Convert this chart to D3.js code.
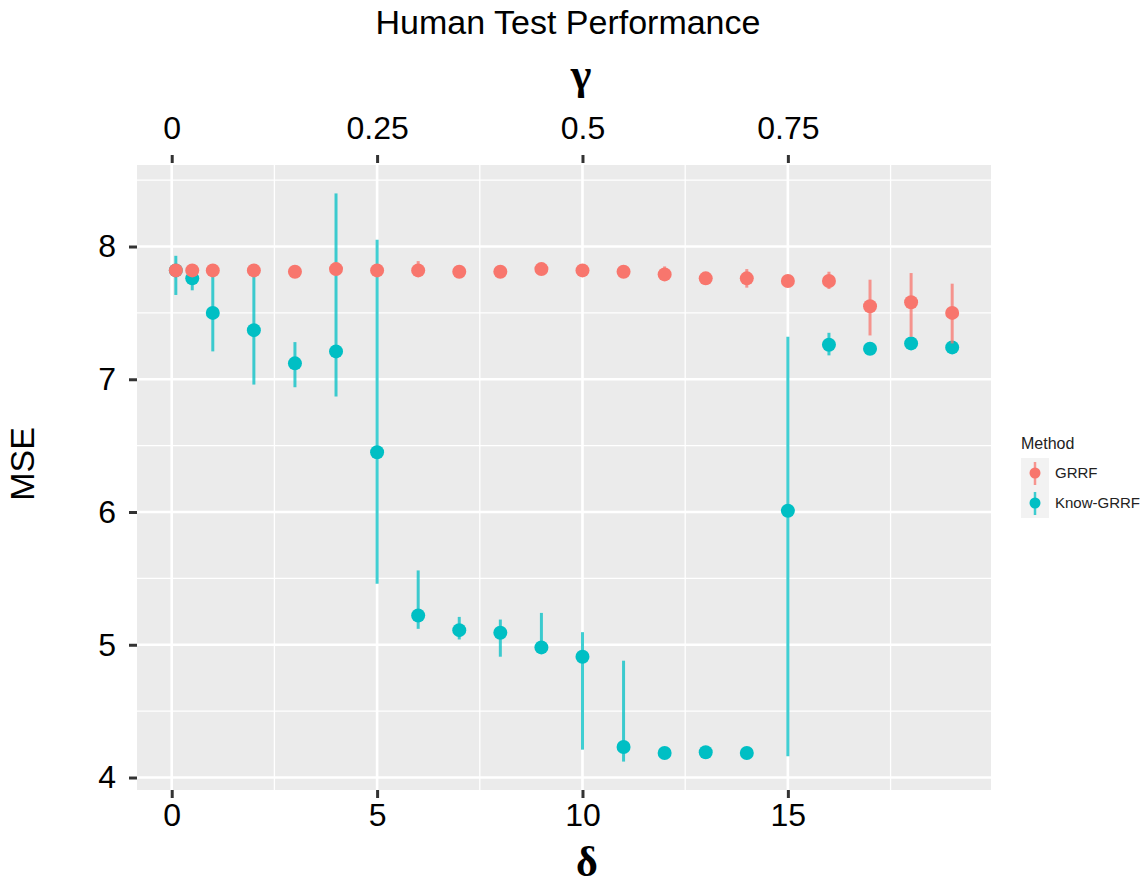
<!DOCTYPE html>
<html>
<head>
<meta charset="utf-8">
<script src="https://cdn.jsdelivr.net/npm/d3@7"></script>
<style>
  body { margin: 0; background: #fff; }
  text { font-family: "Liberation Sans", Arial, sans-serif; }
</style>
</head>
<body>
<div id="vis"></div>
<script>
// delta values shared by both methods
var deltas = [0.1, 0.5, 1, 2, 3, 4, 5, 6, 7, 8, 9, 10, 11, 12, 13, 14, 15, 16, 17, 18, 19];

// GRRF
var grrfMean = [7.82, 7.82, 7.82, 7.82, 7.81, 7.83, 7.82, 7.82, 7.81, 7.81, 7.83, 7.82, 7.81, 7.79, 7.76, 7.76, 7.74, 7.74, 7.55, 7.58, 7.50];
var grrfLo   = [7.80, 7.80, 7.80, 7.80, 7.79, 7.80, 7.80, 7.79, 7.79, 7.79, 7.81, 7.80, 7.79, 7.74, 7.73, 7.69, 7.71, 7.68, 7.33, 7.32, 7.27];
var grrfHi   = [7.84, 7.84, 7.84, 7.84, 7.83, 7.86, 7.84, 7.89, 7.83, 7.83, 7.85, 7.84, 7.83, 7.85, 7.79, 7.83, 7.77, 7.81, 7.75, 7.80, 7.72];

// Know-GRRF
var knowMean = [7.82, 7.76, 7.50, 7.37, 7.12, 7.21, 6.45, 5.22, 5.11, 5.09, 4.98, 4.91, 4.23, 4.185, 4.19, 4.185, 6.01, 7.26, 7.23, 7.27, 7.24];
var knowLo   = [7.635, 7.67, 7.21, 6.96, 6.94, 6.87, 5.46, 5.12, 5.04, 4.91, 4.95, 4.21, 4.12, 4.15, 4.17, 4.16, 4.16, 7.18, 7.20, 7.24, 7.22];
var knowHi   = [7.93, 7.84, 7.80, 7.80, 7.28, 8.40, 8.05, 5.56, 5.21, 5.19, 5.24, 5.095, 4.88, 4.21, 4.21, 4.21, 7.32, 7.35, 7.26, 7.30, 7.28];

var methods = ['GRRF', 'Know-GRRF'];
var methodColors = ['#F8766D', '#00BFC4'];

var xTicks = [0, 5, 10, 15];
var xMinor = [2.5, 7.5, 12.5, 17.5];
var yTicks = [4, 5, 6, 7, 8];
var yMinor = [4.5, 5.5, 6.5, 7.5, 8.5];
var gammaTicks = [0, 0.25, 0.5, 0.75];
var gammaLabels = ['0', '0.25', '0.5', '0.75'];

var width = 1146, height = 888;
var panel = {left: 137, right: 991, top: 165, bottom: 790};

function buildSeries(name, mean, lo, hi) {
  return deltas.map(function(d, i) {
    return {method: name, x: d, y: mean[i], lo: lo[i], hi: hi[i]};
  });
}

var grrf = buildSeries('GRRF', grrfMean, grrfLo, grrfHi);
var know = buildSeries('Know-GRRF', knowMean, knowLo, knowHi);
var all = grrf.concat(know);

// ggplot style 5% expansion
function expand(ext) {
  var pad = (ext[1] - ext[0]) * 0.05;
  return [ext[0] - pad, ext[1] + pad];
}

var x = d3.scaleLinear()
  .domain(expand(d3.extent(deltas)))
  .range([panel.left, panel.right]);

var yExt = [d3.min(all, function(d) { return d.lo; }), d3.max(all, function(d) { return d.hi; })];
var y = d3.scaleLinear()
  .domain(expand(yExt))
  .range([panel.bottom, panel.top]);

// gamma = delta / 20
var gamma = d3.scaleLinear()
  .domain(x.domain().map(function(d) { return d / 20; }))
  .range(x.range());

var color = d3.scaleOrdinal().domain(methods).range(methodColors);

var svg = d3.select('#vis').append('svg')
  .attr('width', width)
  .attr('height', height);

svg.append('rect')
  .attr('width', width).attr('height', height)
  .attr('fill', '#fff');

// panel background
svg.append('rect')
  .attr('x', panel.left).attr('y', panel.top)
  .attr('width', panel.right - panel.left)
  .attr('height', panel.bottom - panel.top)
  .attr('fill', '#EBEBEB');

var grid = svg.append('g');

grid.selectAll('.ymin').data(yMinor).enter().append('line')
  .attr('x1', panel.left).attr('x2', panel.right)
  .attr('y1', function(d) { return y(d); }).attr('y2', function(d) { return y(d); })
  .attr('stroke', '#fff').attr('stroke-width', 1.3);

grid.selectAll('.xmin').data(xMinor).enter().append('line')
  .attr('y1', panel.top).attr('y2', panel.bottom)
  .attr('x1', function(d) { return x(d); }).attr('x2', function(d) { return x(d); })
  .attr('stroke', '#fff').attr('stroke-width', 1.3);

grid.selectAll('.ymaj').data(yTicks).enter().append('line')
  .attr('x1', panel.left).attr('x2', panel.right)
  .attr('y1', function(d) { return y(d); }).attr('y2', function(d) { return y(d); })
  .attr('stroke', '#fff').attr('stroke-width', 2.6);

grid.selectAll('.xmaj').data(xTicks).enter().append('line')
  .attr('y1', panel.top).attr('y2', panel.bottom)
  .attr('x1', function(d) { return x(d); }).attr('x2', function(d) { return x(d); })
  .attr('stroke', '#fff').attr('stroke-width', 2.6);

// axes
function styleAxis(g) {
  g.select('.domain').remove();
  g.selectAll('.tick line').attr('stroke', '#333').attr('stroke-width', 3);
  g.selectAll('.tick text')
    .attr('fill', '#000')
    .style('font-family', '"Liberation Sans", Arial, sans-serif')
    .style('font-size', '32px');
}

svg.append('g')
  .attr('transform', 'translate(0,' + panel.bottom + ')')
  .call(d3.axisBottom(x).tickValues(xTicks).tickSize(8).tickPadding(5).tickFormat(d3.format('d')))
  .call(styleAxis);

svg.append('g')
  .attr('transform', 'translate(0,' + (panel.top - 2) + ')')
  .call(d3.axisTop(gamma).tickValues(gammaTicks).tickSize(8).tickPadding(16)
    .tickFormat(function(d, i) { return gammaLabels[i]; }))
  .call(styleAxis);

svg.append('g')
  .attr('transform', 'translate(' + panel.left + ',0)')
  .call(d3.axisLeft(y).tickValues(yTicks).tickSize(8).tickPadding(13).tickFormat(d3.format('d')))
  .call(styleAxis);

// titles
svg.append('text')
  .attr('x', 568).attr('y', 34)
  .attr('text-anchor', 'middle')
  .style('font-size', '34px')
  .text('Human Test Performance');

svg.append('text')
  .attr('x', 581).attr('y', 89)
  .attr('text-anchor', 'middle')
  .style('font-family', '"Liberation Serif", "DejaVu Serif", serif')
  .style('font-weight', 'bold')
  .style('font-size', '44px')
  .text('γ');

svg.append('text')
  .attr('x', 587).attr('y', 876)
  .attr('text-anchor', 'middle')
  .style('font-family', '"Liberation Serif", "DejaVu Serif", serif')
  .style('font-weight', 'bold')
  .style('font-size', '42px')
  .text('δ');

svg.append('text')
  .attr('transform', 'translate(34,464) rotate(-90)')
  .attr('text-anchor', 'middle')
  .style('font-size', '34px')
  .text('MSE');

// marks: teal underneath, red on top
function drawSeries(data) {
  var g = svg.append('g');
  g.selectAll('line').data(data).enter().append('line')
    .attr('x1', function(d) { return x(d.x); })
    .attr('x2', function(d) { return x(d.x); })
    .attr('y1', function(d) { return y(d.lo); })
    .attr('y2', function(d) { return y(d.hi); })
    .attr('stroke', function(d) { return color(d.method); })
    .attr('stroke-opacity', 0.75)
    .attr('stroke-width', 3);
  g.selectAll('circle').data(data).enter().append('circle')
    .attr('cx', function(d) { return x(d.x); })
    .attr('cy', function(d) { return y(d.y); })
    .attr('r', 7)
    .attr('fill', function(d) { return color(d.method); });
}

drawSeries(know);
drawSeries(grrf);

// legend
var legend = svg.append('g').attr('transform', 'translate(1021,0)');

legend.append('text')
  .attr('x', 0).attr('y', 449)
  .attr('fill', '#222')
  .style('font-size', '16px')
  .text('Method');

var keys = legend.selectAll('.key').data(methods).enter().append('g')
  .attr('transform', function(d, i) { return 'translate(0,' + (458 + i * 30) + ')'; });

keys.append('rect')
  .attr('width', 28).attr('height', 30)
  .attr('fill', '#F2F2F2');

keys.append('line')
  .attr('x1', 14).attr('x2', 14)
  .attr('y1', 4).attr('y2', 27)
  .attr('stroke', function(d) { return color(d); })
  .attr('stroke-opacity', 0.75)
  .attr('stroke-width', 2.5);

keys.append('circle')
  .attr('cx', 14).attr('cy', 15).attr('r', 5.5)
  .attr('fill', function(d) { return color(d); });

keys.append('text')
  .attr('x', 34).attr('y', 20)
  .attr('fill', '#222')
  .style('font-size', '15px')
  .text(function(d) { return d; });
</script>
</body>
</html>
